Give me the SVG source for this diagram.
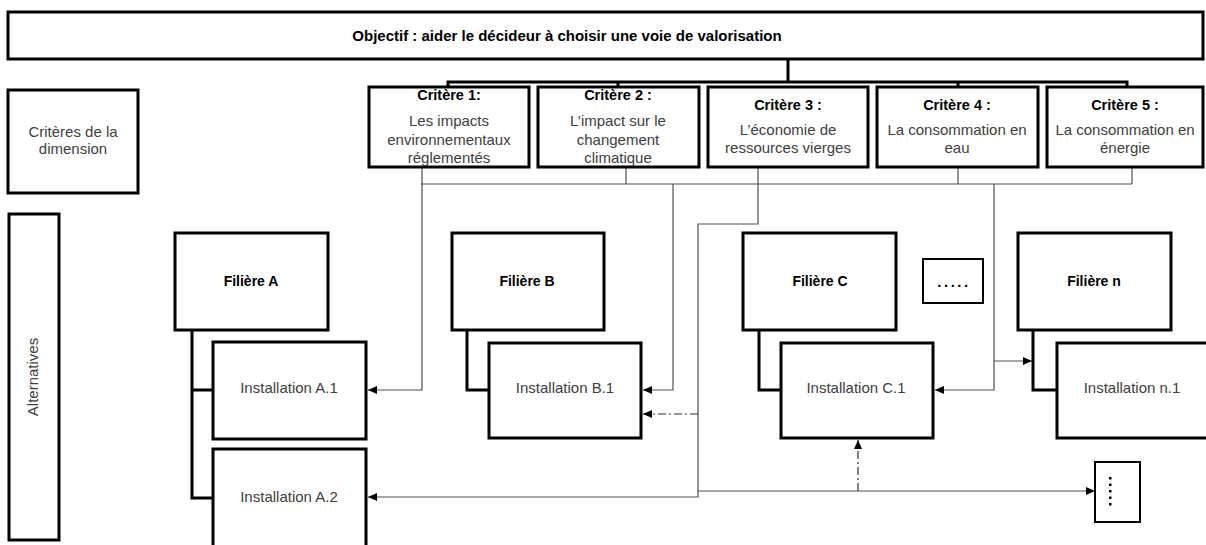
<svg xmlns="http://www.w3.org/2000/svg" width="1206" height="545" viewBox="0 0 1206 545">
<style>
.box{fill:#fff;stroke:#000;stroke-width:3}
.sbox{fill:#fff;stroke:#000;stroke-width:2}
.t{font-family:"Liberation Sans",Arial,sans-serif;font-size:15px;fill:#404040;text-anchor:middle}
.b{font-family:"Liberation Sans",Arial,sans-serif;font-weight:bold;fill:#000;text-anchor:middle}
.thin{fill:none;stroke:#505050;stroke-width:1.2}
.dd{fill:none;stroke:#303030;stroke-width:1.2;stroke-dasharray:8 3 2 3}
.thick{fill:none;stroke:#000;stroke-width:3}
</style>
<defs>
<marker id="ah" markerWidth="9" markerHeight="8" refX="9" refY="4" orient="auto" markerUnits="userSpaceOnUse">
<path d="M0,0 L9,4 L0,8 z" fill="#000"/>
</marker>
</defs>
<rect width="1206" height="545" fill="#fff"/>
<g id="connectors">
<path class="thick" d="M788,59 V82 M448,88 V82 H1127 V88 M618,82 V88 M958,82 V88"/>
<path class="thin" d="M421,184 H1132 M626,167 V184 M958,167 V184 M1132,167 V184"/>
<path class="thin" d="M422,167 V390 H368" marker-end="url(#ah)"/>
<path class="thin" d="M673,184 V390 H643" marker-end="url(#ah)"/>
<path class="thin" d="M758,167 V224 H698 V497 H368" marker-end="url(#ah)"/>
<path class="dd" d="M698,414 H643" marker-end="url(#ah)"/>
<path class="thin" d="M698,491 H1095" marker-end="url(#ah)"/>
<path class="dd" d="M858,491 V440" marker-end="url(#ah)"/>
<path class="thin" d="M994,184 V390 H935" marker-end="url(#ah)"/>
<path class="thin" d="M994,361 H1032" marker-end="url(#ah)"/>
<path class="thick" d="M192,330 V498 H213 M192,390 H213"/>
<path class="thick" d="M467,330 V390 H489"/>
<path class="thick" d="M759,330 V390 H781"/>
<path class="thick" d="M1033,330 V390 H1057"/>
</g>
<g id="objectif">
<rect class="box" x="8" y="12" width="1195" height="47"/>
<text class="b" x="567" y="41" font-size="15">Objectif : aider le décideur à choisir une voie de valorisation</text>
</g>
<g id="criteres-dimension">
<rect class="box" x="8" y="90" width="130" height="103"/>
<text class="t" x="73" y="137" font-size="13.5">Critères de la</text>
<text class="t" x="73" y="154" font-size="13.5">dimension</text>
</g>
<g id="critere1">
<rect class="box" x="369" y="87" width="160" height="80"/>
<text class="b" x="449" y="100" font-size="14.5">Critère 1:</text>
<text class="t" x="449" y="126">Les impacts</text>
<text class="t" x="449" y="145">environnementaux</text>
<text class="t" x="449" y="163">réglementés</text>
</g>
<g id="critere2">
<rect class="box" x="538" y="87" width="161" height="80"/>
<text class="b" x="618" y="100" font-size="14.5">Critère 2 :</text>
<text class="t" x="618" y="126">L’impact sur le</text>
<text class="t" x="618" y="145">changement</text>
<text class="t" x="618" y="163">climatique</text>
</g>
<g id="critere3">
<rect class="box" x="708" y="87" width="160" height="80"/>
<text class="b" x="788" y="110" font-size="14.5">Critère 3 :</text>
<text class="t" x="788" y="135">L’économie de</text>
<text class="t" x="788" y="153">ressources vierges</text>
</g>
<g id="critere4">
<rect class="box" x="877" y="87" width="161" height="80"/>
<text class="b" x="957" y="110" font-size="14.5">Critère 4 :</text>
<text class="t" x="957" y="135">La consommation en</text>
<text class="t" x="957" y="153">eau</text>
</g>
<g id="critere5">
<rect class="box" x="1047" y="87" width="156" height="80"/>
<text class="b" x="1125" y="110" font-size="14.5">Critère 5 :</text>
<text class="t" x="1125" y="135">La consommation en</text>
<text class="t" x="1125" y="153">énergie</text>
</g>
<g id="alternatives">
<rect class="box" x="9" y="214" width="50" height="326"/>
<text class="t" transform="translate(38,377) rotate(-90)">Alternatives</text>
</g>
<g id="filiere-a">
<rect class="box" x="175" y="233" width="153" height="97"/>
<text class="b" x="251" y="286" font-size="14">Filière A</text>
</g>
<g id="installation-a1">
<rect class="box" x="213" y="342" width="153" height="97"/>
<text class="t" x="289" y="393">Installation A.1</text>
</g>
<g id="installation-a2">
<rect class="box" x="213" y="449" width="153" height="120"/>
<text class="t" x="289" y="502">Installation A.2</text>
</g>
<g id="filiere-b">
<rect class="box" x="452" y="233" width="152" height="97"/>
<text class="b" x="527" y="286" font-size="14">Filière B</text>
</g>
<g id="installation-b1">
<rect class="box" x="489" y="343" width="152" height="95"/>
<text class="t" x="565" y="393">Installation B.1</text>
</g>
<g id="filiere-c">
<rect class="box" x="743" y="233" width="153" height="97"/>
<text class="b" x="820" y="286" font-size="14">Filière C</text>
</g>
<g id="installation-c1">
<rect class="box" x="781" y="343" width="152" height="95"/>
<text class="t" x="856" y="393">Installation C.1</text>
</g>
<g id="ellipsis-h">
<rect class="sbox" x="923" y="259" width="60" height="44"/>
<text class="b" x="954" y="287" font-size="15" letter-spacing="2.5">.....</text>
</g>
<g id="filiere-n">
<rect class="box" x="1018" y="233" width="153" height="97"/>
<text class="b" x="1094" y="286" font-size="14">Filière n</text>
</g>
<g id="installation-n1">
<rect class="box" x="1057" y="343" width="160" height="95"/>
<text class="t" x="1132" y="393">Installation n.1</text>
</g>
<g id="ellipsis-v">
<rect class="sbox" x="1095" y="462" width="45" height="60"/>
<g fill="#000">
<rect x="1109" y="477" width="2.5" height="2.5"/>
<rect x="1109" y="483.5" width="2.5" height="2.5"/>
<rect x="1109" y="490" width="2.5" height="2.5"/>
<rect x="1109" y="496.5" width="2.5" height="2.5"/>
<rect x="1109" y="503" width="2.5" height="2.5"/>
</g>
</g>
</svg>
